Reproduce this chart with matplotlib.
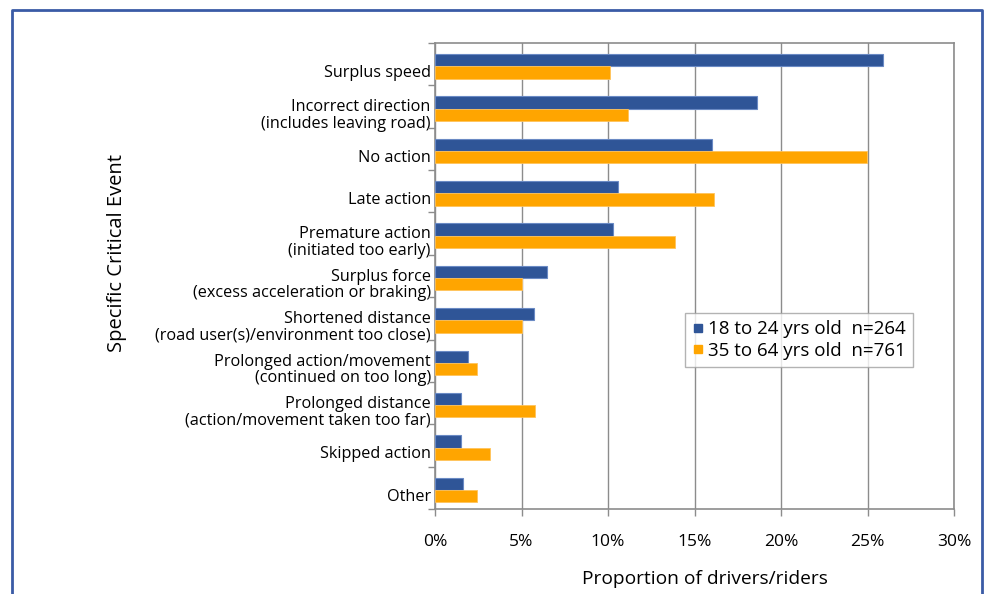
import matplotlib
matplotlib.use("Agg")
from matplotlib import pyplot as plt
from matplotlib.lines import Line2D
from matplotlib.ticker import FixedLocator, PercentFormatter
import numpy as np

plt.rcParams['font.family'] = ['Open Sans', 'DejaVu Sans']

events = [
    "Surplus speed",
    "Incorrect direction\n(includes leaving road)",
    "No action",
    "Late action",
    "Premature action\n(initiated too early)",
    "Surplus force\n(excess acceleration or braking)",
    "Shortened distance\n(road user(s)/environment too close)",
    "Prolonged action/movement\n(continued on too long)",
    "Prolonged distance\n(action/movement taken too far)",
    "Skipped action",
    "Other",
]
young = [25.9, 18.6, 16.0, 10.6, 10.3, 6.5, 5.7, 1.9, 1.5, 1.5, 1.6]
older = [10.1, 11.15, 24.95, 16.1, 13.9, 5.0, 5.0, 2.4, 5.8, 3.2, 2.4]
young_label = "18 to 24 yrs old  n=264"
older_label = "35 to 64 yrs old  n=761"

BLUE = "#2F5597"
ORANGE = "#FFA500"
GRID = "#8C8C8C"

fig = plt.figure(figsize=(9.9, 5.94), dpi=100)
ax = fig.add_axes([435 / 990, 1 - 509 / 594, (954 - 435) / 990, (509 - 43) / 594])

y = np.arange(len(events))
h = 0.29
ax.barh(y - h / 2 + 0.05, young, height=h, color=BLUE, edgecolor="#6A8AC4", linewidth=0.8, zorder=3)
ax.barh(y + h / 2 + 0.05, older, height=h, color=ORANGE, edgecolor="#FFC35A", linewidth=0.6, zorder=3)

ax.set_xlim(0, 30)
ax.set_ylim(len(events) - 0.5, -0.5)
ax.xaxis.set_major_locator(FixedLocator([0, 5, 10, 15, 20, 25, 30]))
ax.xaxis.set_major_formatter(PercentFormatter(decimals=0))
ax.grid(axis="x", color=GRID, linewidth=1.0, zorder=0)

# category labels sit slightly below the centre; tick marks go on the boundaries
ax.set_yticks(y + 0.16)
ax.set_yticklabels(events, fontsize=11.7, linespacing=1.02)
ax.set_yticks(np.arange(len(events) + 1) - 0.5, minor=True)
ax.tick_params(axis="y", which="major", length=0, pad=3)
ax.tick_params(axis="y", which="minor", length=5, color=GRID, width=1)
ax.tick_params(axis="x", length=5, color=GRID, width=1, labelsize=12.5, pad=13)

for s in ax.spines.values():
    s.set_color(GRID)
    s.set_linewidth(1.2)

fig.text(117 / 990, 1 - 253 / 594, "Specific Critical Event", rotation=90,
         ha="center", va="center", fontsize=14.5)
fig.text(705 / 990, 1 - 579 / 594, "Proportion of drivers/riders",
         ha="center", va="center", fontsize=13.8)

handles = [
    Line2D([], [], marker="s", linestyle="none", color=BLUE, markersize=6),
    Line2D([], [], marker="s", linestyle="none", color=ORANGE, markersize=6),
]
leg = fig.legend(handles, [young_label, older_label], loc="upper left",
                 bbox_to_anchor=(685 / 990, 1 - 313 / 594), frameon=True,
                 fancybox=False, fontsize=13.5, handlelength=0.6, handletextpad=0.25,
                 borderpad=0.38, labelspacing=0.18, borderaxespad=0)
leg.get_frame().set_edgecolor("#A0A0A0")
leg.get_frame().set_linewidth(1.0)

# blue frame around the figure, open at the bottom
frame_kw = dict(color="#3A5BA6", linewidth=2.0, transform=fig.transFigure)
fig.add_artist(Line2D([12 / 990, 12 / 990, 982 / 990, 982 / 990],
                      [0, 1 - 10 / 594, 1 - 10 / 594, 0], **frame_kw))

fig.savefig("out.png", dpi=100)
